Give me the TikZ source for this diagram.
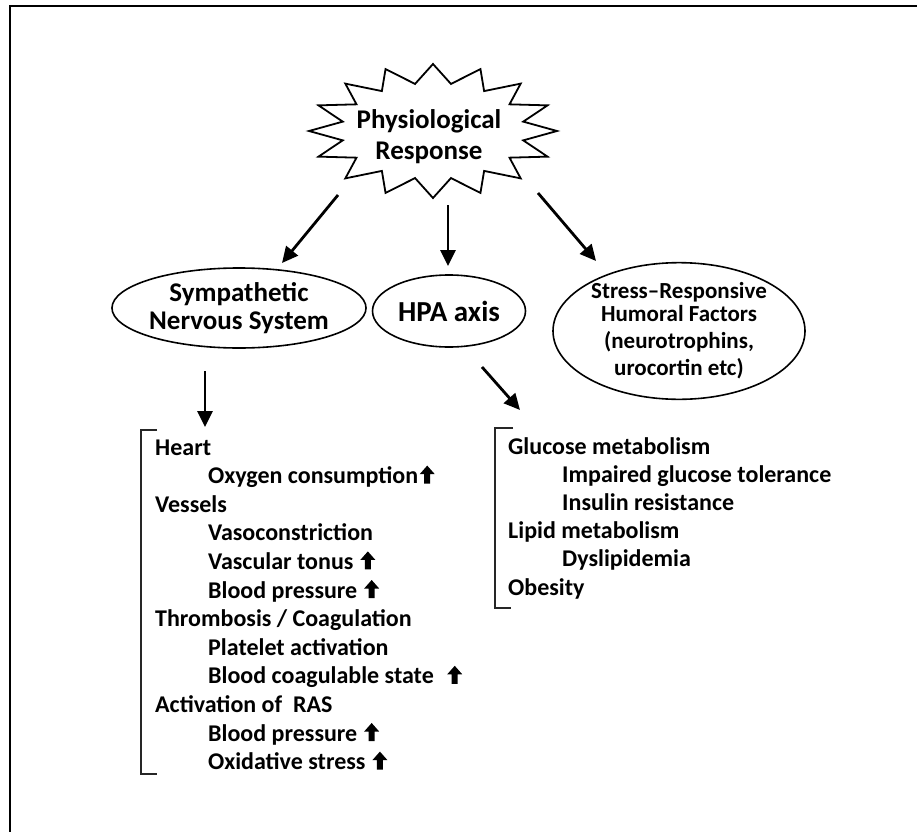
\documentclass[tikz,border=0pt]{standalone}
\usepackage{fontspec}
\setmainfont{Carlito}
\usetikzlibrary{arrows.meta,shapes.geometric}
\newcommand{\uparr}{\kern1.5pt\tikz[baseline=0pt,x=1pt,y=1pt]\fill[black] (-3,0) -- (3,0) -- (3,9.5) -- (7.5,9.5) -- (0,18) -- (-7.5,9.5) -- (-3,9.5) -- cycle;}
\begin{document}
\begin{tikzpicture}[x=1pt,y=-1pt,
  lst/.style={anchor=base west, inner sep=0pt, font=\fontsize{24}{28}\selectfont\bfseries},
  arr/.style={line width=2.8pt, -{Triangle[length=16pt,width=15pt]}},
  ell/.style={ellipse, draw, line width=1.6pt, inner sep=0pt, align=center},
  brk/.style={line width=1.8pt, draw=black!85},
  frm/.style={line width=2pt}
]
\useasboundingbox (0,0) rectangle (917,832);
\fill[white] (0,0) rectangle (917,832);
% frame
\draw[frm] (9,6) -- (917,6);
\draw[frm] (10,6) -- (10,832);
% star
\draw[line width=1.8pt, line join=miter] plot[samples=33, domain=0:32, variable=\k]
  ({433+(124-32*mod(round(\k),2))*cos(90+\k*11.25)}, {131-(67-19*mod(round(\k),2))*sin(90+\k*11.25)}) -- cycle;
\node[inner sep=0pt, align=center, font=\fontsize{27}{31}\selectfont\bfseries] (phys) at (429,137) {Physiological\\Response};
% ellipses
\node[ell, minimum width=182pt, minimum height=80pt, font=\fontsize{27}{28}\selectfont\bfseries] (sns) at (239,308) {Sympathetic\\Nervous System};
\node[ell, minimum width=153pt, minimum height=72pt, font=\fontsize{29}{30}\selectfont\bfseries] (hpa) at (449,311) {HPA axis};
\node[ell, minimum width=252pt, minimum height=132pt, font=\fontsize{23}{25}\selectfont\bfseries] (srhf) at (679,331) {Stress–Responsive\\[-2pt]Humoral Factors\\[2pt](neurotrophins,\\[2pt]urocortin etc)};
% arrow ends
\coordinate (a1s) at (338,195); \coordinate (a1e) at (282,263);
\coordinate (a2s) at (448,205); \coordinate (a2e) at (448,266);
\coordinate (a3s) at (538,193); \coordinate (a3e) at (596,261);
\coordinate (a4s) at (205,371); \coordinate (a4e) at (205,427);
\coordinate (a5s) at (482,367); \coordinate (a5e) at (520,410);
\draw[arr] (a1s) -- (a1e);
\draw[arr] (a2s) -- (a2e);
\draw[arr] (a3s) -- (a3e);
\draw[arr] (a4s) -- (a4e);
\draw[arr] (a5s) -- (a5e);
% brackets
\draw[brk] (157,430) -- (141,430) -- (141,774) -- (157,774);
\draw[brk] (513,428) -- (495,428) -- (495,608) -- (511,608);
% left list
\foreach \lev/\txt [count=\i from 0] in {
  0/Heart,
  1/{Oxygen consumption\uparr},
  0/Vessels,
  1/Vasoconstriction,
  1/{Vascular tonus \uparr},
  1/{Blood pressure \uparr},
  0/{Thrombosis / Coagulation},
  1/Platelet activation,
  1/{Blood coagulable state\hspace{12pt}\uparr},
  0/{Activation of\ \ RAS},
  1/{Blood pressure \uparr},
  1/{Oxidative stress \uparr}}
  \node[lst] (L\i) at ({155+53*\lev}, {455+28.6*\i}) {\txt};
% right list
\foreach \lev/\txt [count=\i from 0] in {
  0/Glucose metabolism,
  1/Impaired glucose tolerance,
  1/Insulin resistance,
  0/Lipid metabolism,
  1/Dyslipidemia,
  0/Obesity}
  \node[lst] (R\i) at ({508+54*\lev}, {454+28.2*\i}) {\txt};
\end{tikzpicture}
\end{document}
